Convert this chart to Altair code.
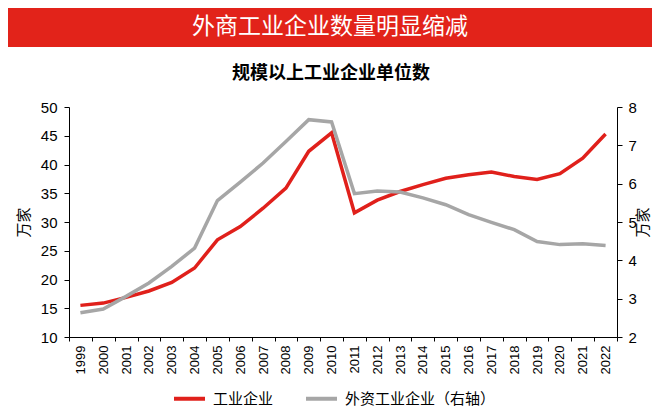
import altair as alt
import pandas as pd

# ---- data ----
years = ["1999", "2000", "2001", "2002", "2003", "2004", "2005", "2006",
         "2007", "2008", "2009", "2010", "2011", "2012", "2013", "2014",
         "2015", "2016", "2017", "2018", "2019", "2020", "2021", "2022"]
industrial = [15.5, 15.9, 16.9, 18.0, 19.5, 22.0, 26.9, 29.2, 32.4, 35.9,
              42.3, 45.5, 31.6, 33.8, 35.3, 36.5, 37.6, 38.2, 38.7, 37.9,
              37.4, 38.4, 41.1, 45.3]
foreign = [2.63, 2.73, 3.06, 3.41, 3.84, 4.32, 5.56, 6.04, 6.54, 7.10,
           7.67, 7.61, 5.74, 5.81, 5.78, 5.63, 5.45, 5.19, 4.99, 4.80,
           4.49, 4.41, 4.43, 4.39]
series_names = ["工业企业", "外资工业企业（右轴）"]
series_colors = ["#E0201B", "#A6A6A6"]
banner_title = "外商工业企业数量明显缩减"
subtitle = "规模以上工业企业单位数"
unit = "万家"
left_ticks = [10, 15, 20, 25, 30, 35, 40, 45, 50]
right_ticks = [2, 3, 4, 5, 6, 7, 8]

CJK = "Noto Sans CJK SC"
NUM = "Liberation Sans"

df = pd.DataFrame({
    "year": years + years,
    "value": industrial + foreign,
    "series": [series_names[0]] * len(years) + [series_names[1]] * len(years),
})
deco = pd.DataFrame({"banner": [banner_title], "sub": [subtitle]})

W, H = 548, 230

x_enc = alt.X(
    "year:O",
    bandPosition=0.5,
    scale=alt.Scale(type="band", paddingInner=0, paddingOuter=0),
    axis=alt.Axis(title=None, labelAngle=-90, tickBand="extent",
                  labelFontSize=13, labelFont=NUM, tickSize=4,
                  labelPadding=4),
)
color_enc = alt.Color(
    "series:N",
    scale=alt.Scale(domain=series_names, range=series_colors),
    legend=alt.Legend(
        orient="none", legendX=103, legendY=274, direction="horizontal",
        title=None, symbolType="stroke", symbolSize=961,
        symbolStrokeWidth=4, labelFont=CJK, labelFontSize=15,
        labelColor="#000", columnPadding=24, labelOffset=6, padding=0,
    ),
)

base = alt.Chart(df)

red = base.transform_filter(alt.datum.series == series_names[0]).mark_line(
    strokeWidth=3.5
).encode(
    x=x_enc,
    y=alt.Y("value:Q",
            scale=alt.Scale(domain=[10, 50], nice=False, zero=False),
            axis=alt.Axis(orient="left", values=left_ticks, title=unit,
                          titleAngle=-90, titleX=-46, titleY=H / 2,
                          titleFont=CJK, titleFontSize=15,
                          titleFontWeight="normal", titleAlign="center",
                          titleBaseline="middle",
                          labelFontSize=15, labelFont=NUM, tickSize=5,
                          labelPadding=7)),
    color=color_enc,
)

gray = base.transform_filter(alt.datum.series == series_names[1]).mark_line(
    strokeWidth=3.5
).encode(
    x=x_enc,
    y=alt.Y("value:Q",
            scale=alt.Scale(domain=[2, 8], nice=False, zero=False),
            axis=alt.Axis(orient="right", values=right_ticks, title=unit,
                          titleAngle=-90, titleX=25, titleY=H / 2,
                          titleFont=CJK, titleFontSize=15,
                          titleFontWeight="normal", titleAlign="center",
                          titleBaseline="middle",
                          labelFontSize=15, labelFont=NUM, tickSize=5,
                          labelPadding=6)),
    color=color_enc,
)

dchart = alt.Chart(deco)
banner = dchart.mark_rect(color="#E2231A", clip=False).encode(
    x=alt.value(-61), x2=alt.value(583), y=alt.value(-99), y2=alt.value(-60)
)
banner_txt = dchart.mark_text(
    font=CJK, fontSize=23, color="#FFFFFF", align="center", baseline="middle"
).encode(x=alt.value(261), y=alt.value(-80), text="banner:N")
sub_txt = dchart.mark_text(
    font=CJK, fontSize=18, fontWeight="bold", color="#000000",
    align="center", baseline="middle"
).encode(x=alt.value(262), y=alt.value(-33), text="sub:N")

chart = alt.layer(banner, banner_txt, sub_txt, red, gray).resolve_scale(
    y="independent"
).properties(
    width=W, height=H,
    autosize=alt.AutoSizeParams(type="none"),
    padding={"left": 61, "top": 99, "right": 35, "bottom": 70},
).configure_axis(
    grid=False, domainColor="#000", tickColor="#000", labelColor="#000",
    titleColor="#000", domainWidth=1,
).configure_view(stroke="transparent")

chart.save("out.html", embed_options={"renderer": "svg", "actions": False})
